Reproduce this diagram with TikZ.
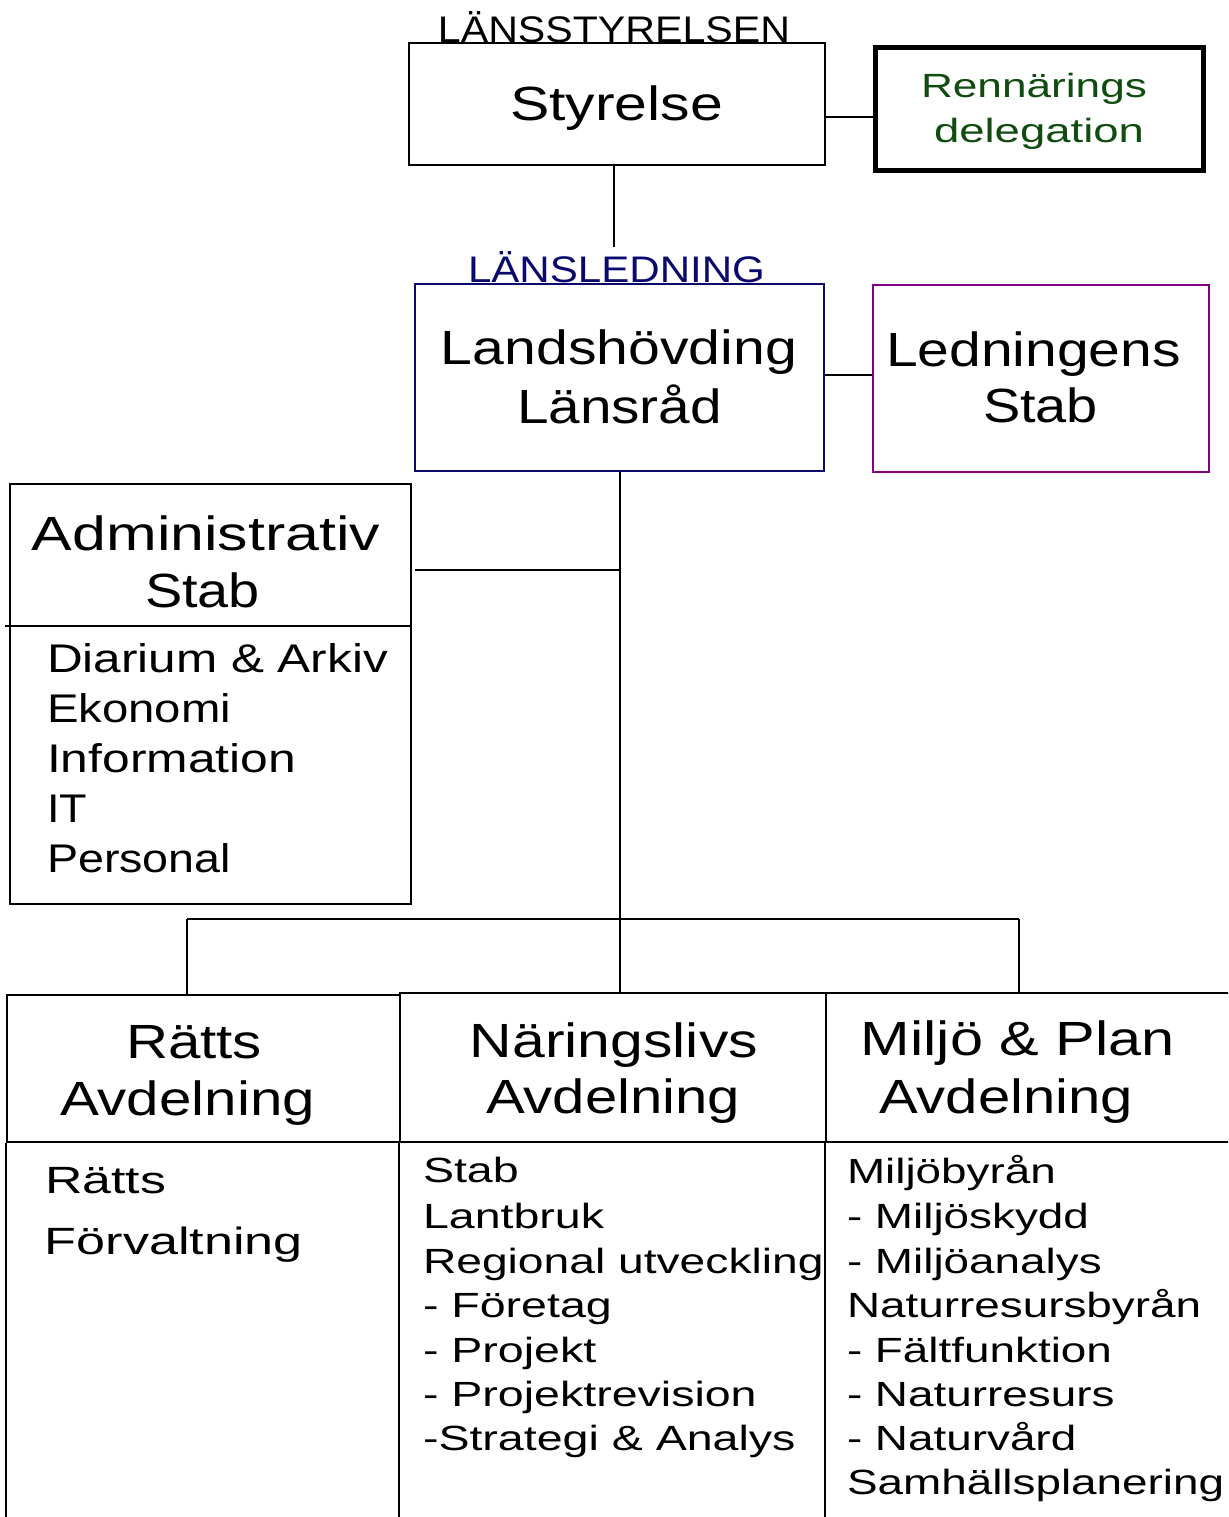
\documentclass[tikz,border=0pt]{standalone}
\usepackage{fontspec}
\setmainfont{Liberation Sans}
\usepackage{graphicx}
\newlength\pxu
\setlength\pxu{0.5pt}
\newcommand\fitw[2]{\resizebox{#1\pxu}{\height}{#2}}
\newcommand\sxx[2]{\scalebox{#1}[1]{#2}}
\definecolor{navy}{RGB}{10,10,110}
\definecolor{purp}{RGB}{128,0,128}
\definecolor{dgreen}{RGB}{16,76,16}
\begin{document}
\begin{tikzpicture}[x=0.5pt,y=-0.5pt,line width=1pt,
  box/.style={draw,inner sep=0pt,anchor=north west},
  txt/.style={inner sep=0pt,anchor=base},
  ltxt/.style={inner sep=0pt,anchor=base west},
  head/.style={txt,font=\fontsize{24}{28}\selectfont},
  lbl/.style={txt,font=\fontsize{18.5}{22}\selectfont},
  alist/.style={ltxt,font=\fontsize{20}{24}\selectfont},
  blist/.style={ltxt,font=\fontsize{17.5}{21}\selectfont},
  rlist/.style={ltxt,font=\fontsize{19}{22}\selectfont}]
\useasboundingbox (0,0) rectangle (1228,1517);
\clip (0,0) rectangle (1228,1517);
% boxes
\node[box,minimum width=416\pxu,minimum height=122\pxu] (sty) at (408,42) {};
\node[box,line width=2.5pt,minimum width=328\pxu,minimum height=123\pxu] (ren) at (873,45) {};
\node[box,draw=navy,minimum width=409\pxu,minimum height=187\pxu] (lan) at (414,283) {};
\node[box,draw=purp,line width=0.8pt,minimum width=336\pxu,minimum height=187\pxu] (led) at (872,284) {};
\node[box,minimum width=401\pxu,minimum height=420\pxu] (adm) at (9,483) {};
\node[box,minimum width=393\pxu,minimum height=147\pxu] (rat) at (6,994) {};
\node[box,minimum width=426\pxu,minimum height=149\pxu] (nar) at (399,992) {};
\node[box,minimum width=420\pxu,minimum height=149\pxu] (mil) at (825,992) {};
% helper coordinates
\coordinate (bot) at (0,1530);
\coordinate (yren) at (0,117);
\coordinate (yled) at (0,375);
\coordinate (yadm) at (0,570);
\coordinate (ydiv) at (0,626);
\coordinate (stytail) at (614,247);
\coordinate (barl) at (187,919);
\coordinate (barr) at (1019,919);
\coordinate (admdivl) at (5,626);
% admin divider
\draw (admdivl) -- (adm.east |- ydiv);
% bottom open boxes
\draw (rat.south west) -- (rat.south west |- bot);
\draw (nar.south west) -- (nar.south west |- bot);
\draw (mil.south west) -- (mil.south west |- bot);
% connectors
\draw (sty.east |- yren) -- (ren.west |- yren);
\draw (sty.south -| stytail) -- (stytail);
\draw (lan.east |- yled) -- (led.west |- yled);
\draw (lan.south) -- (lan.south |- nar.north);
\draw ([xshift=1.5pt]adm.east |- yadm) -- (lan.south |- yadm);
\draw (barl) -- (barr);
\draw (barl) -- (barl |- rat.north);
\draw (barr) -- (barr |- mil.north);
% labels above boxes
\node[lbl] (tls) at (614,42) {\fitw{352}{LÄNSSTYRELSEN}};
\node[lbl,text=navy] (tll) at (616.5,282) {\fitw{297}{LÄNSLEDNING}};
% box titles
\node[head] (t1) at (616.5,120) {\fitw{213}{Styrelse}};
\node[txt,font=\fontsize{16.8}{20}\selectfont,text=dgreen] (t2a) at (1034,97) {\fitw{226}{Rennärings}};
\node[txt,font=\fontsize{16.8}{20}\selectfont,text=dgreen] (t2b) at (1039,142) {\fitw{210}{delegation}};
\node[head] (t3a) at (619,364) {\fitw{356}{Landshövding}};
\node[head] (t3b) at (619.5,423) {\fitw{205}{Länsråd}};
\node[head] (t4a) at (1033.5,366) {\fitw{295}{Ledningens}};
\node[head] (t4b) at (1040.5,422) {\fitw{115}{Stab}};
\node[head] (t5a) at (206,550) {\fitw{348}{Administrativ}};
\node[head] (t5b) at (202.5,607) {\fitw{115}{Stab}};
\node[head] (t6a) at (194,1058) {\fitw{136}{Rätts}};
\node[head] (t6b) at (187.5,1115) {\fitw{255}{Avdelning}};
\node[head] (t7a) at (614,1057) {\fitw{288}{Näringslivs}};
\node[head] (t7b) at (613,1113) {\fitw{254}{Avdelning}};
\node[head] (t8a) at (1018,1055) {\fitw{314}{Miljö \& Plan}};
\node[head] (t8b) at (1006,1113) {\fitw{254}{Avdelning}};
% admin list
\node[alist] (a1) at (46,672) {\fitw{341}{Diarium \& Arkiv}};
\node[alist] (a2) at (46,722) {\fitw{184}{Ekonomi}};
\node[alist] (a3) at (46,772) {\fitw{249}{Information}};
\node[alist] (a4) at (46,822) {\fitw{40}{IT}};
\node[alist] (a5) at (46,872) {\fitw{184}{Personal}};
% Rätts list
\node[rlist] (r1) at (44,1193) {\fitw{121}{Rätts}};
\node[rlist] (r2) at (44,1254) {\fitw{258}{Förvaltning}};
% Näringslivs list
\node[blist] (n1) at (422,1182) {\sxx{1.33}{Stab}};
\node[blist] (n2) at (422,1228) {\sxx{1.33}{Lantbruk}};
\node[blist] (n3) at (422,1273) {\sxx{1.32}{Regional utveckling}};
\node[blist] (n4) at (422,1317) {\sxx{1.33}{- Företag}};
\node[blist] (n5) at (422,1362) {\sxx{1.33}{- Projekt}};
\node[blist] (n6) at (422,1406) {\sxx{1.33}{- Projektrevision}};
\node[blist] (n7) at (422,1450) {\sxx{1.33}{-Strategi \& Analys}};
% Miljö list
\node[blist] (m1) at (846,1183) {\sxx{1.31}{Miljöbyrån}};
\node[blist] (m2) at (846,1228) {\sxx{1.31}{- Miljöskydd}};
\node[blist] (m3) at (846,1273) {\sxx{1.31}{- Miljöanalys}};
\node[blist] (m4) at (846,1317) {\sxx{1.31}{Naturresursbyrån}};
\node[blist] (m5) at (846,1362) {\sxx{1.31}{- Fältfunktion}};
\node[blist] (m6) at (846,1406) {\sxx{1.31}{- Naturresurs}};
\node[blist] (m7) at (846,1450) {\sxx{1.31}{- Naturvård}};
\node[blist] (m8) at (846,1494) {\sxx{1.31}{Samhällsplanering}};
\end{tikzpicture}
\end{document}
